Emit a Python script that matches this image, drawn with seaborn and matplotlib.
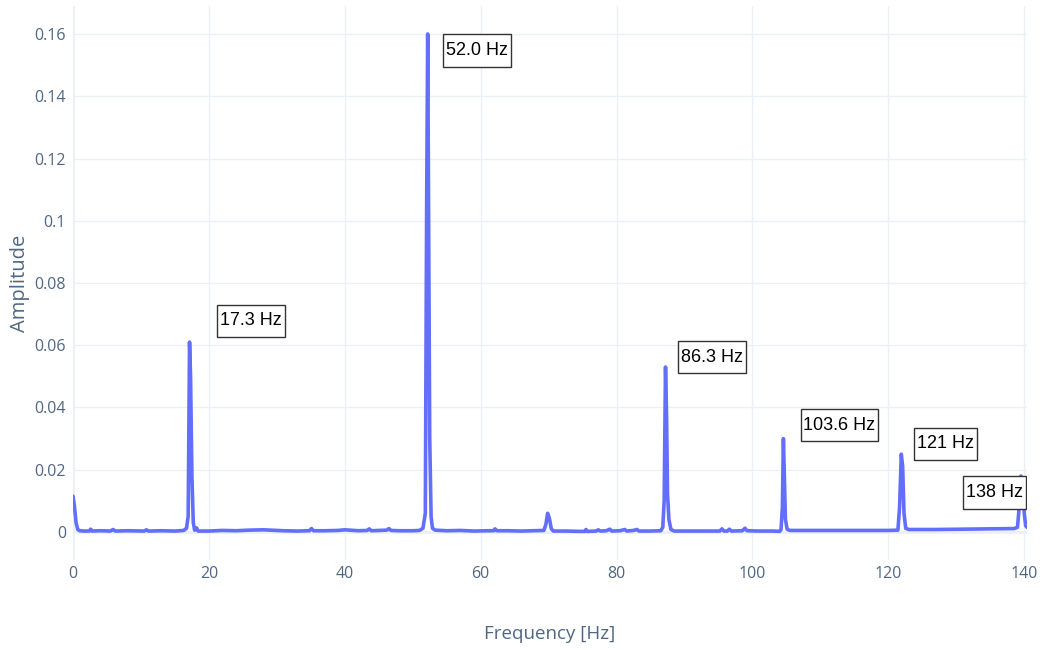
import matplotlib
matplotlib.use("Agg")
import matplotlib.pyplot as plt
from matplotlib.path import Path
import seaborn as sns
import pandas as pd

# Amplitude spectrum samples
freq = [
    0.0, 0.2, 0.45, 0.7, 1.0, 1.6, 2.4, 2.6, 2.8, 4.0, 5.5, 5.9, 6.2, 8.0, 10.5, 10.8, 11.1,
    13.0, 15.0, 16.3, 16.7, 16.95, 17.15, 17.3, 17.5, 17.7, 17.9, 18.2, 18.4, 20.0, 22.0,
    24.0, 26.0, 28.0, 29.0, 31.0, 33.0, 34.8, 35.1, 35.4, 37.0, 39.0, 40.0, 42.0, 43.3,
    43.6, 43.9, 45.0, 46.2, 46.5, 46.8, 48.0, 50.0, 51.0, 51.5, 51.85, 52.05, 52.2, 52.35,
    52.5, 52.7, 52.9, 53.3, 55.0, 57.0, 59.0, 61.0, 61.9, 62.1, 62.4, 64.0, 66.0, 68.0,
    69.3, 69.6, 69.85, 70.1, 70.4, 70.7, 72.5, 74.5, 75.3, 75.5, 75.7, 77.0, 77.3, 77.6,
    78.5, 79.0, 79.3, 80.5, 81.2, 81.5, 82.5, 83.0, 83.3, 85.0, 86.5, 86.8, 87.0, 87.2,
    87.35, 87.5, 87.7, 88.0, 88.5, 90.0, 92.0, 94.0, 95.2, 95.5, 95.8, 96.3, 96.6, 96.9,
    98.5, 98.9, 99.2, 101.0, 103.0, 104.0, 104.2, 104.4, 104.55, 104.7, 104.85, 105.1,
    105.5, 108.0, 112.0, 116.0, 120.0, 121.4, 121.65, 121.9, 122.1, 122.3, 122.55, 123.0,
    127.0, 131.0, 135.0, 138.5, 139.0, 139.25, 139.5, 139.75, 140.0, 140.2, 140.4,
]
amplitude = [
    0.0115, 0.0085, 0.003, 0.0008, 0.0004, 0.0003, 0.0003, 0.0009, 0.0003, 0.0004, 0.0003,
    0.0008, 0.0003, 0.0004, 0.0003, 0.0007, 0.0003, 0.0004, 0.0003, 0.0005, 0.0012, 0.005,
    0.061, 0.050, 0.018, 0.003, 0.0006, 0.0013, 0.0003, 0.0003, 0.0005, 0.0004, 0.0006,
    0.0007, 0.0006, 0.0004, 0.0003, 0.0004, 0.0011, 0.0004, 0.0004, 0.0005, 0.0007, 0.0004,
    0.0005, 0.0010, 0.0004, 0.0005, 0.0006, 0.0011, 0.0005, 0.0004, 0.0004, 0.0005, 0.0012,
    0.006, 0.107, 0.160, 0.098, 0.030, 0.005, 0.0012, 0.0006, 0.0004, 0.0005, 0.0003,
    0.0004, 0.0004, 0.0010, 0.0004, 0.0004, 0.0003, 0.0004, 0.0005, 0.0025, 0.0060, 0.0045,
    0.0010, 0.0003, 0.0003, 0.0002, 0.0002, 0.0008, 0.0002, 0.0003, 0.0007, 0.0003, 0.0004,
    0.0009, 0.0003, 0.0004, 0.0008, 0.0003, 0.0005, 0.0008, 0.0003, 0.0003, 0.0004, 0.0015,
    0.010, 0.053, 0.038, 0.012, 0.004, 0.0008, 0.0003, 0.0003, 0.0003, 0.0003, 0.0003,
    0.0010, 0.0003, 0.0003, 0.0009, 0.0003, 0.0004, 0.0012, 0.0004, 0.0003, 0.0003, 0.0002,
    0.0008, 0.008, 0.030, 0.017, 0.004, 0.0009, 0.0005, 0.0005, 0.0005, 0.0005, 0.0005,
    0.0006, 0.008, 0.025, 0.021, 0.006, 0.0012, 0.0008, 0.0008, 0.0009, 0.0010, 0.0011,
    0.0015, 0.008, 0.018, 0.017, 0.006, 0.002, 0.0015,
]

# Harmonic labels and where their boxes sit (data coordinates)
peak_labels = ["17.3 Hz", "52.0 Hz", "86.3 Hz", "103.6 Hz", "121 Hz", "138 Hz"]
label_x = [26.2, 59.4, 94.0, 112.8, 128.4, 135.6]
label_y = [0.0678, 0.1547, 0.0562, 0.0343, 0.0283, 0.0127]

x_ticks = [0, 20, 40, 60, 80, 100, 120, 140]
y_ticks = [0, 0.02, 0.04, 0.06, 0.08, 0.1, 0.12, 0.14, 0.16]
y_tick_labels = ["0", "0.02", "0.04", "0.06", "0.08", "0.1", "0.12", "0.14", "0.16"]

sns.set_theme(style="white")
plt.rcParams["font.family"] = ["Open Sans", "DejaVu Sans"]

text_color = "#506784"
grid_color = "#EBF0F8"


def label_box(x0, y0, width, height, mutation_size):
    """Rectangle with a slim side margin and a deeper top/bottom margin."""
    px = 0.16 * mutation_size
    py = 0.42 * mutation_size
    x0, y0 = x0 - px, y0 - py
    x1, y1 = x0 + width + 2 * px, y0 + height + 2 * py
    return Path([(x0, y0), (x1, y0), (x1, y1), (x0, y1), (x0, y0)], closed=True)


df = pd.DataFrame({"Frequency [Hz]": freq, "Amplitude": amplitude})

fig = plt.figure(figsize=(10.4, 6.5), dpi=100)
ax = fig.add_axes([73 / 1040, 1 - 560 / 650, (1027 - 73) / 1040, (560 - 6) / 650])

sns.lineplot(data=df, x="Frequency [Hz]", y="Amplitude", ax=ax, sort=False,
             color="#636EFA", linewidth=2.6, zorder=3)

ax.set_xlim(0, 140.4)
ax.set_ylim(-0.009, 0.169)
ax.set_xticks(x_ticks)
ax.set_yticks(y_ticks)
ax.set_yticklabels(y_tick_labels)

ax.grid(True, color=grid_color, linewidth=1.0, zorder=0)
ax.axhline(0, color=grid_color, linewidth=2.0, zorder=1)
ax.axvline(0, color=grid_color, linewidth=2.0, zorder=1)
for s in ax.spines.values():
    s.set_visible(False)

ax.tick_params(axis="both", length=0, labelsize=11.5, labelcolor=text_color)
ax.tick_params(axis="x", pad=4)
ax.tick_params(axis="y", pad=5)

ax.set_xlabel("Frequency [Hz]", fontsize=13.5, color=text_color, labelpad=31)
ax.set_ylabel("Amplitude", fontsize=14.5, color=text_color, labelpad=3)

for txt, lx, ly in zip(peak_labels, label_x, label_y):
    ax.text(lx, ly, txt, ha="center", va="center", fontsize=13, color="black",
            family=["Liberation Sans", "DejaVu Sans"], zorder=5, clip_on=True,
            bbox=dict(boxstyle=label_box, facecolor="white",
                      edgecolor="#333333", linewidth=1.0))

fig.savefig("out.png", dpi=100, facecolor="white")
